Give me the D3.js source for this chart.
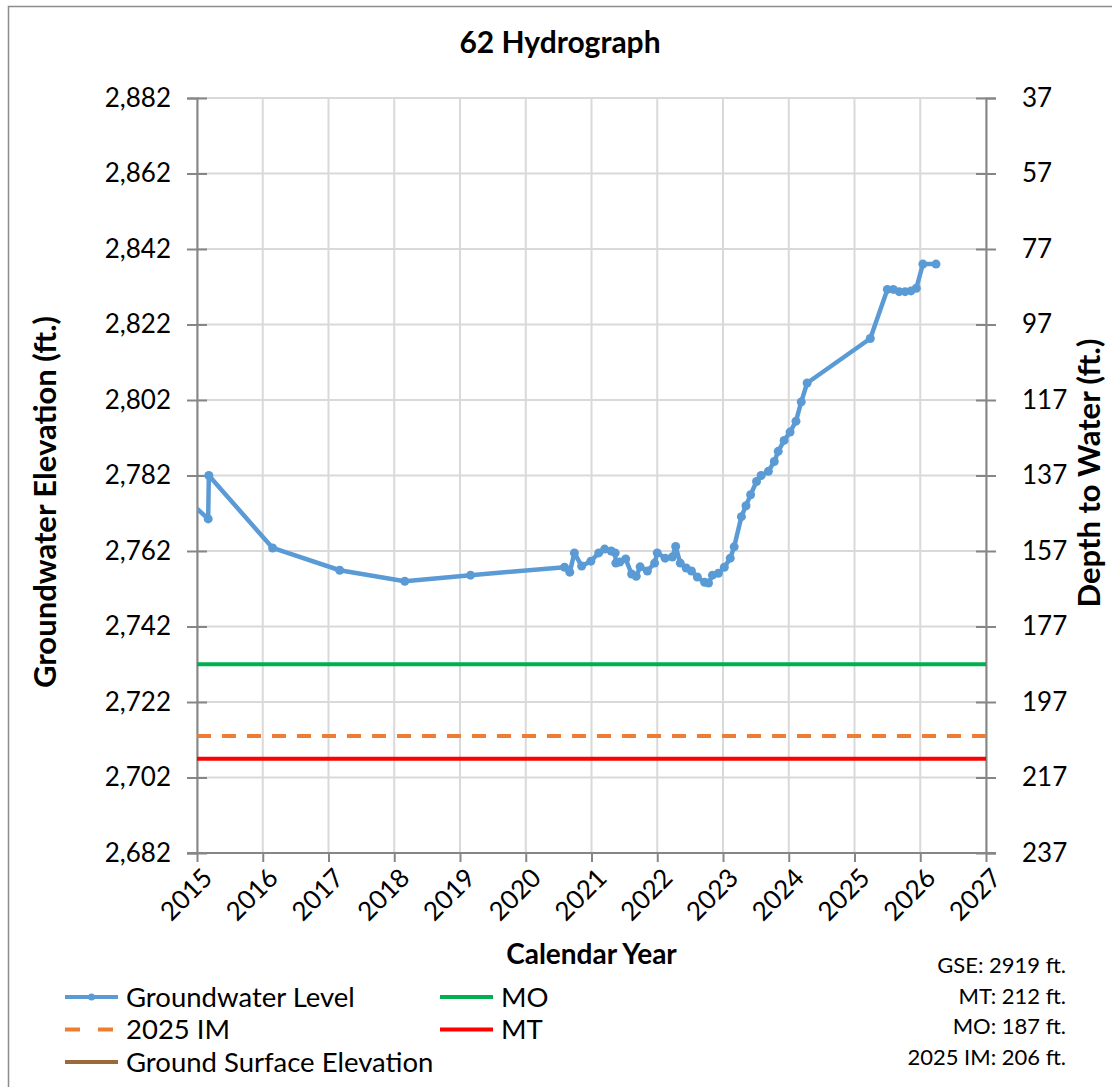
<!DOCTYPE html>
<html>
<head>
<meta charset="utf-8">
<script src="https://cdn.jsdelivr.net/npm/d3@7"></script>
<style>
  body { margin: 0; background: #fff; }
  svg { display: block; font-family: Lato, "Open Sans", sans-serif; }
</style>
</head>
<body>
<div id="chart"></div>
<script>
// well 62 readings (decimal year, groundwater elevation ft)
const years = [
  2014.95, 2015.17, 2015.18, 2016.15, 2017.17, 2018.16, 2019.16, 2020.59, 2020.67, 2020.74,
  2020.85, 2020.99, 2021.11, 2021.20, 2021.30, 2021.36, 2021.37, 2021.43, 2021.52, 2021.61,
  2021.68, 2021.74, 2021.85, 2021.96, 2022.00, 2022.12, 2022.23, 2022.28, 2022.35, 2022.44,
  2022.52, 2022.61, 2022.72, 2022.78, 2022.84, 2022.93, 2023.02, 2023.11, 2023.17, 2023.28,
  2023.35, 2023.42, 2023.51, 2023.58, 2023.69, 2023.78, 2023.84, 2023.93, 2024.02, 2024.11,
  2024.19, 2024.28, 2025.24, 2025.50, 2025.59, 2025.68, 2025.77, 2025.86, 2025.94, 2026.04,
  2026.24
];
const elevations = [
  2774.0, 2770.5, 2782.0, 2762.8, 2756.9, 2754.0, 2755.6, 2757.7, 2756.4, 2761.5,
  2758.0, 2759.3, 2761.5, 2762.5, 2762.0, 2761.5, 2758.8, 2759.1, 2759.9, 2755.9,
  2755.3, 2757.8, 2756.7, 2758.8, 2761.5, 2760.1, 2760.4, 2763.2, 2758.8, 2757.5,
  2756.7, 2755.1, 2753.7, 2753.5, 2755.6, 2756.1, 2757.7, 2760.1, 2763.1, 2771.1,
  2774.0, 2776.9, 2780.4, 2782.0, 2783.1, 2785.7, 2788.4, 2791.3, 2793.5, 2796.4,
  2801.5, 2806.5, 2818.3, 2831.3, 2831.3, 2830.7, 2830.7, 2830.9, 2831.6, 2838.0,
  2838.0
];

const gse = 2919;
const mtDepth = 212;
const moDepth = 187;
const imDepth = 206;

const xTicks = d3.range(2015, 2028);
const yTicks = d3.range(2682, 2883, 20);

const width = 1112, height = 1087;
const margin = {top: 98, right: 126, bottom: 234, left: 197};
const plotW = width - margin.left - margin.right;
const plotH = height - margin.top - margin.bottom;

const svg = d3.select('#chart').append('svg')
    .attr('width', width)
    .attr('height', height);

// chart area border (only left/top edges fall inside the picture)
svg.append('rect')
    .attr('x', 8.5).attr('y', 6.5)
    .attr('width', width + 20).attr('height', height + 20)
    .attr('fill', 'none')
    .attr('stroke', '#8c8c8c')
    .attr('stroke-width', 1.5);

const g = svg.append('g')
    .attr('transform', `translate(${margin.left},${margin.top})`);

const x = d3.scaleLinear().domain([2015, 2027]).range([0, plotW]);
const y = d3.scaleLinear().domain([2682, 2882]).range([plotH, 0]);
const yDepth = d3.scaleLinear().domain([gse - 2682, gse - 2882]).range([plotH, 0]);

// gridlines
g.append('g')
    .selectAll('line')
    .data(xTicks)
    .join('line')
    .attr('x1', d => x(d)).attr('x2', d => x(d))
    .attr('y1', 0).attr('y2', plotH)
    .attr('stroke', '#d9d9d9')
    .attr('stroke-width', 2);

g.append('g')
    .selectAll('line')
    .data(yTicks)
    .join('line')
    .attr('x1', 0).attr('x2', plotW)
    .attr('y1', d => y(d)).attr('y2', d => y(d))
    .attr('stroke', '#d9d9d9')
    .attr('stroke-width', 2);

// axes
const axisColor = '#868686';

const left = g.append('g')
    .call(d3.axisLeft(y).tickValues(yTicks).tickSize(10).tickPadding(16).tickFormat(d3.format(',')));
left.selectAll('.tick line').attr('x2', 10).attr('x1', -10);

const right = g.append('g')
    .attr('transform', `translate(${plotW},0)`)
    .call(d3.axisRight(yDepth).tickValues(yTicks.map(v => gse - v)).tickSize(10).tickPadding(26));
right.selectAll('.tick line').attr('x1', -10).attr('x2', 10);

const bottom = g.append('g')
    .attr('transform', `translate(0,${plotH})`)
    .call(d3.axisBottom(x).tickValues(xTicks).tickSize(9).tickFormat(d3.format('d')));
bottom.select('.domain').attr('d', `M-10,0H${plotW + 10}`);
bottom.selectAll('.tick text')
    .attr('text-anchor', 'end')
    .attr('dy', 0)
    .attr('transform', 'translate(8,18) rotate(-45)');

[left, right, bottom].forEach(a => {
    a.selectAll('.domain').attr('stroke', axisColor).attr('stroke-width', 2);
    a.selectAll('.tick line').attr('stroke', axisColor).attr('stroke-width', 2);
    a.selectAll('.tick text')
        .attr('fill', '#000')
        .style('font-size', '26px')
        .style('font-family', 'Lato, sans-serif');
});

// threshold lines
g.append('clipPath').attr('id', 'plot-clip')
    .append('rect').attr('width', plotW).attr('height', plotH);

const plot = g.append('g').attr('clip-path', 'url(#plot-clip)');

const thresholds = [
    {name: 'Ground Surface Elevation', value: gse, color: '#9c6a3a', dash: null},
    {name: 'MO', value: gse - moDepth, color: '#00b050', dash: null},
    {name: '2025 IM', value: gse - imDepth, color: '#ed7d31', dash: '14,11'},
    {name: 'MT', value: gse - mtDepth, color: '#ff0000', dash: null}
];

plot.selectAll('.threshold')
    .data(thresholds)
    .join('line')
    .attr('class', 'threshold')
    .attr('x1', 0).attr('x2', plotW)
    .attr('y1', d => y(d.value)).attr('y2', d => y(d.value))
    .attr('stroke', d => d.color)
    .attr('stroke-width', 4)
    .attr('stroke-dasharray', d => d.dash);

// groundwater level
const series = years.map((yr, i) => ({year: yr, elev: elevations[i]}));
const blue = '#5b9bd5';

plot.append('path')
    .datum(series)
    .attr('fill', 'none')
    .attr('stroke', blue)
    .attr('stroke-width', 4.5)
    .attr('stroke-linejoin', 'round')
    .attr('d', d3.line().x(d => x(d.year)).y(d => y(d.elev)));

plot.selectAll('.pt')
    .data(series)
    .join('circle')
    .attr('class', 'pt')
    .attr('cx', d => x(d.year))
    .attr('cy', d => y(d.elev))
    .attr('r', 4.5)
    .attr('fill', blue);

// titles
svg.append('text')
    .attr('x', 560).attr('y', 53)
    .attr('text-anchor', 'middle')
    .style('font-size', '30px').style('font-weight', 'bold')
    .text('62 Hydrograph');

svg.append('text')
    .attr('x', margin.left + plotW / 2).attr('y', 964)
    .attr('text-anchor', 'middle')
    .style('font-size', '28px').style('font-weight', 'bold')
    .text('Calendar Year');

svg.append('text')
    .attr('transform', `translate(56,502) rotate(-90)`)
    .attr('text-anchor', 'middle')
    .style('font-size', '31px').style('font-weight', 'bold')
    .text('Groundwater Elevation (ft.)');

svg.append('text')
    .attr('transform', `translate(1100,473) rotate(-90)`)
    .attr('text-anchor', 'middle')
    .style('font-size', '31px').style('font-weight', 'bold')
    .text('Depth to Water (ft.)');

// legend
const legendItems = [
    {name: 'Groundwater Level', color: blue, dash: null, marker: true, col: 0, row: 0},
    {name: 'MO', color: '#00b050', dash: null, marker: false, col: 1, row: 0},
    {name: '2025 IM', color: '#ed7d31', dash: '15,18', marker: false, col: 0, row: 1},
    {name: 'MT', color: '#ff0000', dash: null, marker: false, col: 1, row: 1},
    {name: 'Ground Surface Elevation', color: '#9c6a3a', dash: null, marker: false, col: 0, row: 2}
];

const legend = svg.append('g').selectAll('g')
    .data(legendItems)
    .join('g')
    .attr('transform', d => `translate(${d.col ? 440 : 65},${997 + d.row * 32.5})`);

legend.append('line')
    .attr('x1', 0).attr('x2', 53)
    .attr('stroke', d => d.color)
    .attr('stroke-width', 4)
    .attr('stroke-dasharray', d => d.dash);

legend.filter(d => d.marker).append('circle')
    .attr('cx', 26.5).attr('r', 3.5).attr('fill', d => d.color);

legend.append('text')
    .attr('x', 61).attr('dy', '0.36em')
    .style('font-size', '27.5px')
    .text(d => d.name);

// reference values
const notes = [`GSE: ${gse} ft.`, `MT: ${mtDepth} ft.`, `MO: ${moDepth} ft.`, `2025 IM: ${imDepth} ft.`];
svg.append('g').selectAll('text')
    .data(notes)
    .join('text')
    .attr('x', 1066)
    .attr('y', (d, i) => 965 + i * 30.7)
    .attr('dy', '0.36em')
    .attr('text-anchor', 'end')
    .style('font-size', '22px')
    .text(d => d);
</script>
</body>
</html>
